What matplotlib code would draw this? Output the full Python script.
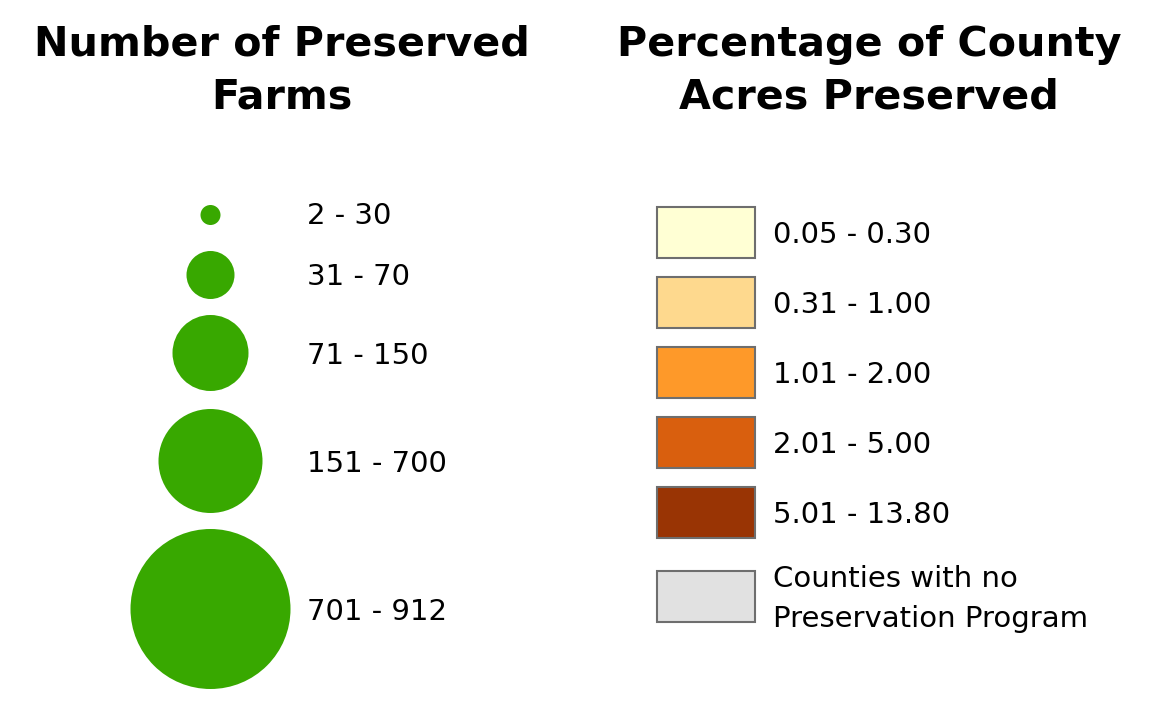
import matplotlib
matplotlib.use("Agg")
import matplotlib.pyplot as plt
from matplotlib.patches import Circle, Rectangle

plt.rcParams['font.family'] = ['DejaVu Sans']

W, H = 1157, 723

left_title = "Number of Preserved\nFarms"
right_title = "Percentage of County\nAcres Preserved"

farm_labels = ["2 - 30", "31 - 70", "71 - 150", "151 - 700", "701 - 912"]
farm_diameters = [20, 48, 76, 104, 160]
farm_y = [215, 275, 353, 461, 609]
farm_label_y = [216, 277, 356, 464, 612]

pct_labels = ["0.05 - 0.30", "0.31 - 1.00", "1.01 - 2.00", "2.01 - 5.00", "5.01 - 13.80",
              "Counties with no\nPreservation Program"]
pct_colors = ["#FFFFD4", "#FED98E", "#FE9929", "#D95F0E", "#993404", "#E1E1E1"]
pct_y = [207, 277, 347, 417, 487, 571]
pct_label_y = [235, 305, 375, 445, 515, 599]

fig = plt.figure(figsize=(W / 100, H / 100), dpi=100)
ax = fig.add_axes([0, 0, 1, 1])
ax.set_xlim(0, W)
ax.set_ylim(H, 0)
ax.axis("off")

ax.text(282, 71, left_title, ha="center", va="center", fontsize=29.7, fontweight="bold",
        linespacing=1.39, color="black")
ax.text(869, 71, right_title, ha="center", va="center", fontsize=29.7, fontweight="bold",
        linespacing=1.39, color="black")

for d, y, ly, lab in zip(farm_diameters, farm_y, farm_label_y, farm_labels):
    ax.add_patch(Circle((210.5, y), d / 2, facecolor="#38A800", edgecolor="none"))
    ax.text(307, ly, lab, ha="left", va="center", fontsize=21, color="black")

for c, y, ly, lab in zip(pct_colors, pct_y, pct_label_y, pct_labels):
    ax.add_patch(Rectangle((657, y), 98, 51, facecolor=c, edgecolor="#6E6E6E", linewidth=1.5))
    ax.text(773, ly, lab, ha="left", va="center", fontsize=21, color="black", linespacing=1.52)

fig.savefig("out.png", dpi=100)
